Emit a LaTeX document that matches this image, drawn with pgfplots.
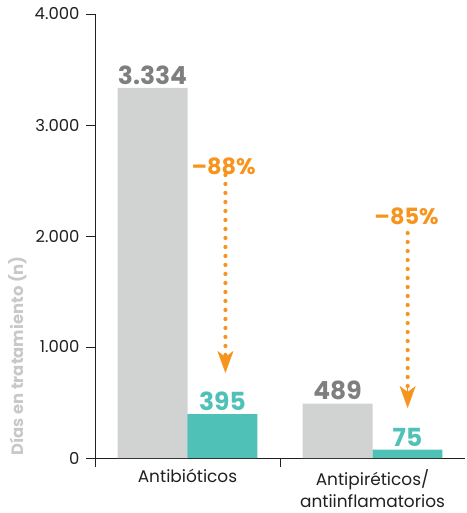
\documentclass[border=0pt]{standalone}
\usepackage{pgfplots}
\pgfplotsset{compat=1.18}
\usepackage{fontspec}
\setmainfont{Poppins}
\usetikzlibrary{arrows.meta}
\definecolor{barGray}{HTML}{D1D3D2}
\definecolor{barTeal}{HTML}{4FC1B7}
\definecolor{labGray}{HTML}{7F7F7F}
\definecolor{ylabGray}{HTML}{C8C8C8}
\definecolor{arrOrange}{HTML}{F7941D}
\definecolor{axDark}{HTML}{231F20}
\begin{document}
\begin{tikzpicture}
\begin{axis}[
  scale only axis,
  width=370bp, height=444bp,
  xmin=-0.5, xmax=1.5,
  ymin=0, ymax=4000,
  axis lines=left,
  axis line style={-, draw=axDark, line width=0.9pt},
  ybar=0pt,
  bar width=0.378,
  xtick={0,1},
  xticklabels={Antibióticos,{Antipiréticos/\\antiinflamatorios}},
  xticklabel style={align=center, font=\fontsize{17}{22}\selectfont, text=axDark, yshift=1bp},
  minor xtick={-0.5,0.5},
  major x tick style={draw=none},
  minor x tick style={draw=axDark, line width=0.9pt},
  minor tick length=9bp,
  major tick length=9bp,
  tick align=outside,
  ytick={0,1000,2000,3000,4000},
  y tick style={draw=axDark, line width=0.9pt},
  yticklabel style={font=\fontsize{16.5}{18}\selectfont, text=axDark, xshift=-3bp},
  /pgf/number format/1000 sep={.},
  /pgf/number format/assume math mode=true,
  ylabel={Días en tratamiento (n)},
  ylabel style={at={(ticklabel cs:0.23)}, anchor=south, yshift=1bp, font=\bfseries\fontsize{16.5}{18}\selectfont, text=ylabGray},
  nodes near coords,
  nodes near coords style={font=\bfseries\fontsize{25}{28}\selectfont},
  clip=false,
]
\addplot[fill=barGray, draw=none, nodes near coords style={text=labGray}] coordinates {(0,3334) (1,489)};
\addplot[fill=barTeal, draw=none, nodes near coords style={text=barTeal}] coordinates {(0,395) (1,75)};
\draw[arrOrange, line width=4.2bp, line cap=round, dash pattern=on 0pt off 9bp] (axis cs:0.205,2550) -- (axis cs:0.205,900);
\draw[arrOrange, line width=0.5pt, -{Stealth[width=16bp,length=22bp,inset=6bp]}] (axis cs:0.205,950) -- (axis cs:0.205,766);
\draw[arrOrange, line width=4.2bp, line cap=round, dash pattern=on 0pt off 9bp] (axis cs:1.19,2027) -- (axis cs:1.19,580);
\draw[arrOrange, line width=0.5pt, -{Stealth[width=16bp,length=22bp,inset=6bp]}] (axis cs:1.19,640) -- (axis cs:1.19,450);
\node[text=arrOrange, font=\bfseries\fontsize{22.5}{24}\selectfont] at (axis cs:0.195,2631) {–88\%};
\node[text=arrOrange, font=\bfseries\fontsize{22.5}{24}\selectfont] at (axis cs:1.184,2180) {–85\%};
\end{axis}
\pgfresetboundingbox
\path (-95bp,-55bp) rectangle (372bp,458bp);
\end{tikzpicture}
\end{document}
